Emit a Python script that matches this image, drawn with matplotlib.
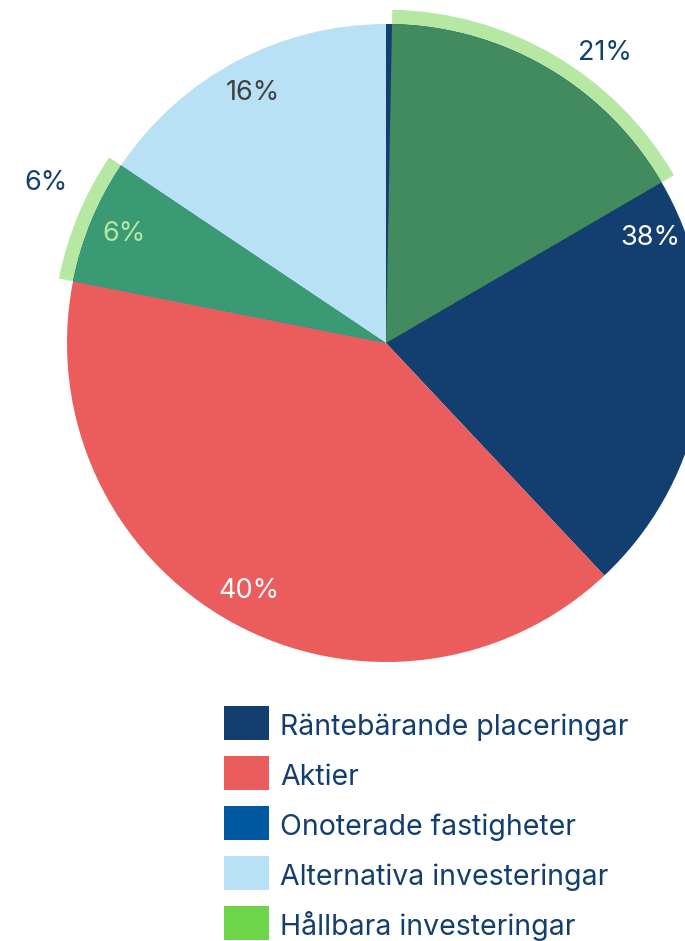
import numpy as np
import matplotlib
matplotlib.use('Agg')
import matplotlib.pyplot as plt
from matplotlib.patches import Wedge, Rectangle

plt.rcParams['font.family'] = ['Inter', 'DejaVu Sans']

# holdings, share of total (%), clockwise from 12 o'clock
categories = ['Räntebärande placeringar', 'Aktier', 'Onoterade fastigheter',
              'Alternativa investeringar']
shares = [38.0, 40.1, 6.3, 15.6]
share_labels = ['38%', '40%', '6%', '16%']

# sustainable part drawn on top of each holding (%)
sustainable = [16.3, 0.0, 6.3, 0.0]
sustainable_lead = [0.3, 0.0, 0.0, 0.0]   # uncovered sliver before the green part
sustainable_labels = ['21%', '', '6%', '']

legend_names = categories + ['Hållbara investeringar']

navy = '#123f70'
colors = [navy, '#eb5c5c', '#0058a0', '#b9e1f6']
green_colors = ['#418b5f', None, '#3a9a73', None]
ring_color = '#b6e8a4'
legend_colors = colors + ['#6dd54a']
label_colors = ['white', 'white', '#b6e8a4', '#404040']

W, H = 685, 941
fig = plt.figure(figsize=(W / 100, H / 100), dpi=100)
ax = fig.add_axes([0, 0, 1, 1])

# pixel geometry: centre at (386, 343) px, radius 319 px
px = 319.0
ax.pie(shares, colors=colors, startangle=90, counterclock=False, radius=1,
       center=(0, 0), wedgeprops=dict(linewidth=0, zorder=1))

start = 90 - 3.6 * np.concatenate([[0], np.cumsum(shares)[:-1]])
mid = start - 1.8 * np.array(shares)

for i in range(len(shares)):
    if sustainable[i] <= 0:
        continue
    t2 = start[i] - 3.6 * sustainable_lead[i]
    t1 = t2 - 3.6 * sustainable[i]
    ax.add_patch(Wedge((0, 0), 1.045, t1, t2, color=ring_color, lw=0, zorder=0))
    ax.add_patch(Wedge((0, 0), 1.0, t1, t2, color=green_colors[i], lw=0, zorder=2))

# labels inside the slices
for i, lab in enumerate(share_labels):
    a = np.deg2rad(mid[i])
    r = 0.89
    ax.text(r * np.cos(a), r * np.sin(a), lab, color=label_colors[i],
            fontsize=19.5, ha='center', va='center', zorder=3)

# labels of the sustainable part, outside the pie
outer_pos = {0: (53.0, 1.14), 2: (154.8, 1.178)}
for i, (ang, r) in outer_pos.items():
    a = np.deg2rad(ang)
    ax.text(r * np.cos(a), r * np.sin(a), sustainable_labels[i], color=navy,
            fontsize=19.5, ha='center', va='center', zorder=3)

ax.set_xlim(-386 / px, (W - 386) / px)
ax.set_ylim(-(H - 343) / px, 343 / px)
ax.axis('off')

# legend: swatches 45x34 px, rows every 50 px
for i, (name, c) in enumerate(zip(legend_names, legend_colors)):
    top = 706 + 50 * i
    fig.add_artist(Rectangle((224 / W, 1 - (top + 34) / H), 45 / W, 34 / H,
                             transform=fig.transFigure, facecolor=c,
                             edgecolor='none'))
    fig.text(280 / W, 1 - (top + 29) / H, name, color=navy, fontsize=20.5,
             ha='left', va='baseline')

fig.savefig('out.png', dpi=100)
